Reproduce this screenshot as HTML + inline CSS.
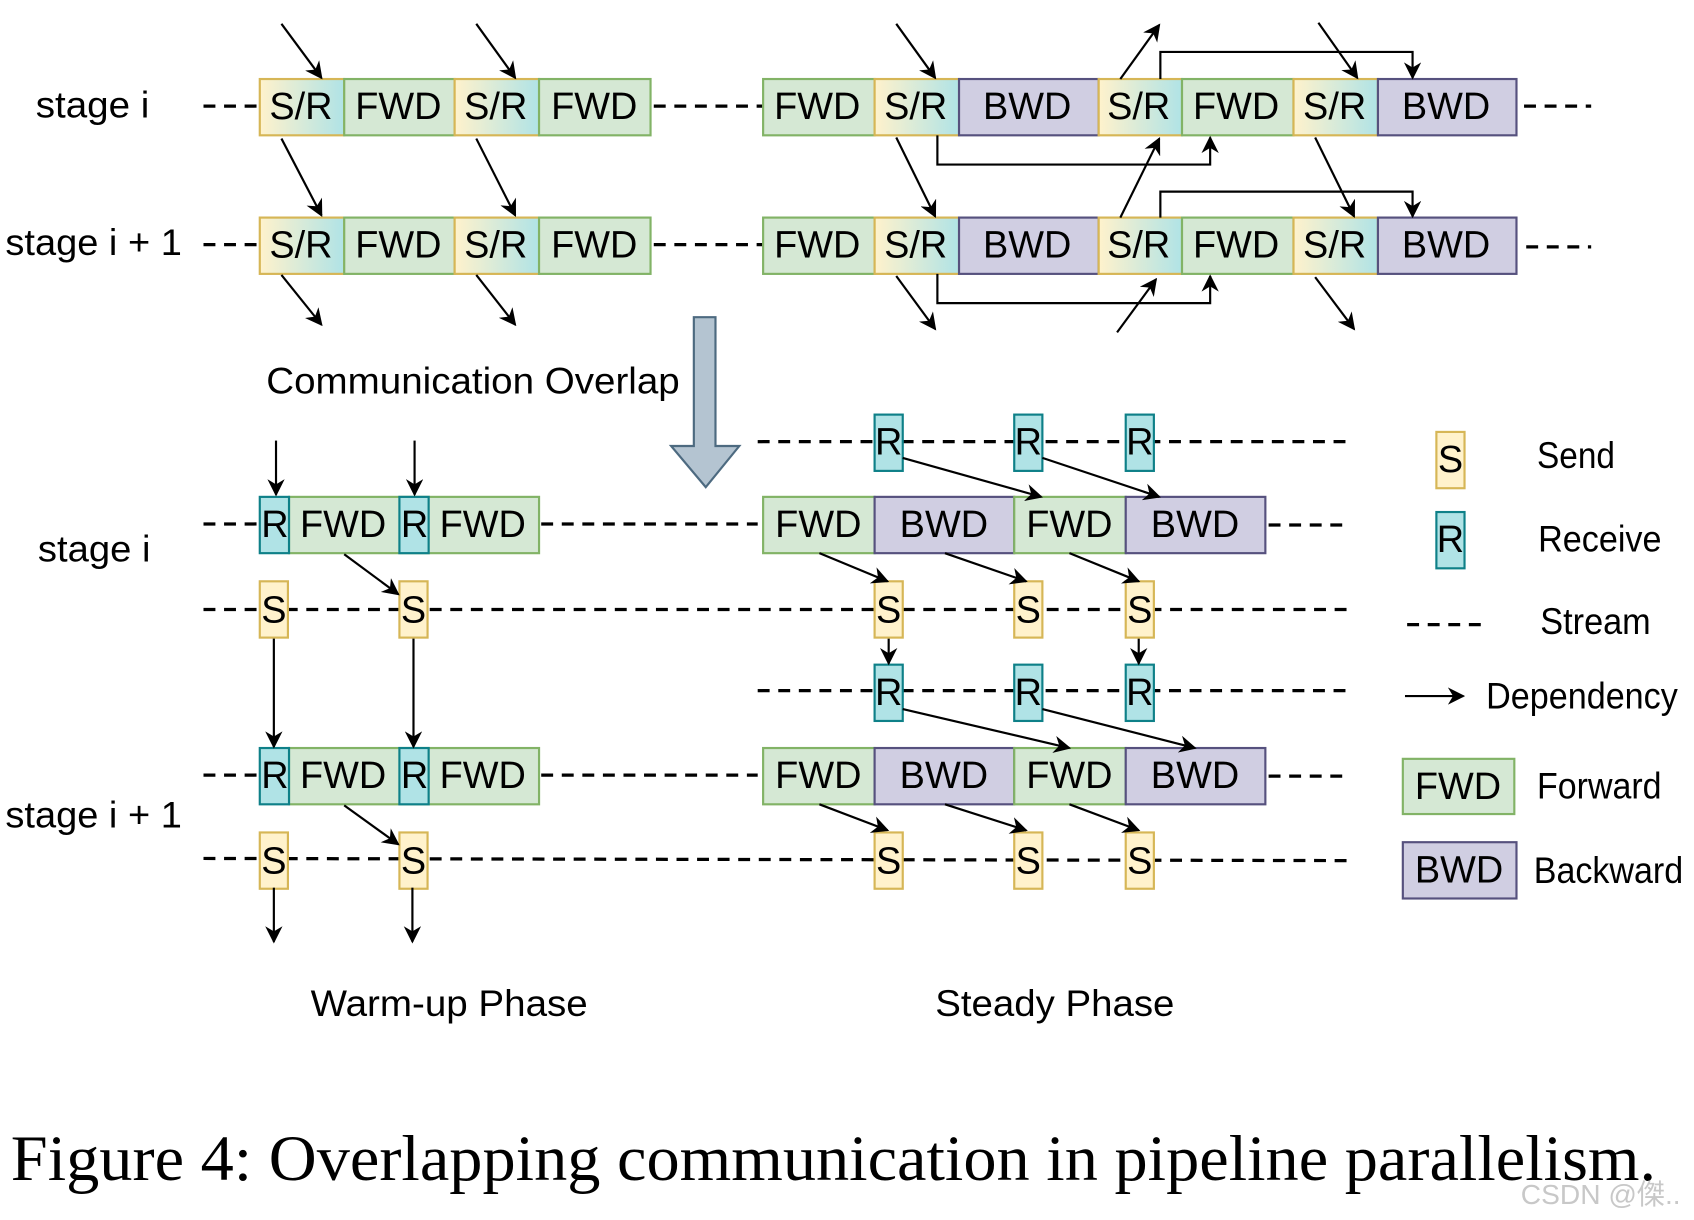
<!DOCTYPE html>
<html><head><meta charset="utf-8"><style>
html,body{margin:0;padding:0;background:#fff;width:1694px;height:1220px;overflow:hidden}
svg{display:block}
text{font-family:"Liberation Sans",sans-serif;fill:#000}
</style></head><body>
<svg width="1694" height="1220" viewBox="0 0 1565 1127" preserveAspectRatio="none" xmlns="http://www.w3.org/2000/svg">
<defs>
<linearGradient id="sr" x1="0" y1="0" x2="1" y2="0"><stop offset="0" stop-color="#fff2cc"/><stop offset="1" stop-color="#b0e3e6"/></linearGradient>
<marker id="b" viewBox="0 0 10 10" refX="9" refY="5" markerWidth="16" markerHeight="16" orient="auto" markerUnits="userSpaceOnUse"><path d="M0,0 L10,5 L0,10 L3,5 z" fill="#000"/></marker>
</defs>
<style>
.d{stroke:#000;stroke-width:3;stroke-dasharray:11 8;fill:none}
.ar{stroke:#000;stroke-width:2;fill:none;marker-end:url(#b)}
.bt{font-size:35px;text-anchor:middle;dominant-baseline:central}
.lb{font-size:34px;dominant-baseline:central}
</style>
<g class="d">
<line x1="188" y1="98" x2="240" y2="98"/><line x1="604" y1="98" x2="705" y2="98"/><line x1="1408" y1="98" x2="1470" y2="98"/>
<line x1="188" y1="226" x2="240" y2="226"/><line x1="604" y1="226" x2="705" y2="226"/><line x1="1410" y1="228" x2="1470" y2="228"/>
<line x1="188" y1="484" x2="240" y2="484"/><line x1="500" y1="484" x2="700" y2="484"/><line x1="1172" y1="485" x2="1245" y2="485"/>
<line x1="188" y1="563" x2="1245" y2="563"/>
<line x1="188" y1="716" x2="240" y2="716"/><line x1="500" y1="716" x2="700" y2="716"/><line x1="1172" y1="717" x2="1245" y2="717"/>
<line x1="188" y1="793" x2="1245" y2="795"/>
<line x1="700" y1="408" x2="1245" y2="408"/>
<line x1="700" y1="638" x2="1245" y2="638"/>
<line x1="1300" y1="577" x2="1375" y2="577"/>
</g>
<g stroke-width="2">
<g id="row1">
<rect x="240" y="73" width="78" height="52" fill="url(#sr)" stroke="#d6b656"/>
<rect x="318" y="73" width="102" height="52" fill="#d5e8d4" stroke="#82b366"/>
<rect x="420" y="73" width="78" height="52" fill="url(#sr)" stroke="#d6b656"/>
<rect x="498" y="73" width="103" height="52" fill="#d5e8d4" stroke="#82b366"/>
<rect x="705" y="73" width="103" height="52" fill="#d5e8d4" stroke="#82b366"/>
<rect x="808" y="73" width="78" height="52" fill="url(#sr)" stroke="#d6b656"/>
<rect x="886" y="73" width="129" height="52" fill="#d0cee2" stroke="#56517e"/>
<rect x="1015" y="73" width="77" height="52" fill="url(#sr)" stroke="#d6b656"/>
<rect x="1092" y="73" width="103" height="52" fill="#d5e8d4" stroke="#82b366"/>
<rect x="1195" y="73" width="78" height="52" fill="url(#sr)" stroke="#d6b656"/>
<rect x="1273" y="73" width="128" height="52" fill="#d0cee2" stroke="#56517e"/>
<g stroke="none">
<text class="bt" x="278" y="99">S/R</text><text class="bt" x="368" y="99">FWD</text>
<text class="bt" x="458" y="99">S/R</text><text class="bt" x="549" y="99">FWD</text>
<text class="bt" x="755" y="99">FWD</text><text class="bt" x="846" y="99">S/R</text>
<text class="bt" x="949" y="99">BWD</text><text class="bt" x="1052" y="99">S/R</text>
<text class="bt" x="1142" y="99">FWD</text><text class="bt" x="1233" y="99">S/R</text>
<text class="bt" x="1336" y="99">BWD</text>
</g>
</g>
<use href="#row1" y="128"/>
</g>
<text class="lb" x="33" y="97" textLength="105" lengthAdjust="spacingAndGlyphs">stage i</text>
<text class="lb" x="5" y="224" textLength="163" lengthAdjust="spacingAndGlyphs">stage i + 1</text>
<g class="ar">
<line x1="260" y1="22" x2="297" y2="72"/><line x1="440" y1="22" x2="476" y2="72"/>
<line x1="260" y1="128" x2="297" y2="199"/><line x1="440" y1="128" x2="476" y2="199"/>
<line x1="260" y1="254" x2="297" y2="300"/><line x1="440" y1="254" x2="476" y2="300"/>
<line x1="828" y1="22" x2="864" y2="72"/><line x1="828" y1="127" x2="864" y2="200"/><line x1="828" y1="255" x2="864" y2="304"/>
<line x1="1035" y1="73" x2="1071" y2="23"/><line x1="1035" y1="201" x2="1071" y2="128"/><line x1="1032" y1="307" x2="1068" y2="258"/>
<line x1="1218" y1="21" x2="1254" y2="72"/><line x1="1215" y1="127" x2="1251" y2="200"/><line x1="1215" y1="256" x2="1251" y2="304"/>
<polyline points="1072,73 1072,48 1305,48 1305,72"/>
<polyline points="1072,201 1072,177 1305,177 1305,200"/>
<polyline points="866,125 866,152 1118,152 1118,127"/>
<polyline points="866,253 866,280 1118,280 1118,255"/>
</g>
<path d="M641,293 L661,293 L661,412 L683,412 L652,450 L620,412 L641,412 Z" fill="#b4c4d1" stroke="#4d6a80" stroke-width="2"/>
<text class="lb" x="246" y="352" textLength="382" lengthAdjust="spacingAndGlyphs">Communication Overlap</text>
<g stroke-width="2">
<g id="wrow">
<rect x="267" y="459" width="231" height="52" fill="#d5e8d4" stroke="#82b366"/>
<rect x="240" y="459" width="27" height="52" fill="#b0e3e6" stroke="#0e8088"/>
<rect x="369" y="459" width="27" height="52" fill="#b0e3e6" stroke="#0e8088"/>
<rect x="240" y="537" width="26" height="52" fill="#fff2cc" stroke="#d6b656"/>
<rect x="369" y="537" width="26" height="52" fill="#fff2cc" stroke="#d6b656"/>
<g stroke="none">
<text class="bt" x="254" y="485">R</text><text class="bt" x="317" y="485">FWD</text>
<text class="bt" x="383" y="485">R</text><text class="bt" x="446" y="485">FWD</text>
<text class="bt" x="253" y="564">S</text><text class="bt" x="382" y="564">S</text>
</g>
</g>
<use href="#wrow" y="232"/>
</g>
<text class="lb" x="35" y="507" textLength="104" lengthAdjust="spacingAndGlyphs">stage i</text>
<text class="lb" x="5" y="753" textLength="163" lengthAdjust="spacingAndGlyphs">stage i + 1</text>
<g class="ar">
<line x1="255" y1="407" x2="255" y2="457"/><line x1="383" y1="407" x2="383" y2="457"/>
<line x1="318" y1="512" x2="368" y2="549"/><line x1="318" y1="744" x2="368" y2="780"/>
<line x1="253" y1="590" x2="253" y2="690"/><line x1="382" y1="590" x2="382" y2="690"/>
<line x1="253" y1="820" x2="253" y2="870"/><line x1="381" y1="820" x2="381" y2="870"/>
</g>
<g stroke-width="2">
<g id="srow">
<rect x="705" y="459" width="103" height="52" fill="#d5e8d4" stroke="#82b366"/>
<rect x="808" y="459" width="129" height="52" fill="#d0cee2" stroke="#56517e"/>
<rect x="937" y="459" width="103" height="52" fill="#d5e8d4" stroke="#82b366"/>
<rect x="1040" y="459" width="129" height="52" fill="#d0cee2" stroke="#56517e"/>
<rect x="808" y="537" width="26" height="52" fill="#fff2cc" stroke="#d6b656"/>
<rect x="937" y="537" width="26" height="52" fill="#fff2cc" stroke="#d6b656"/>
<rect x="1040" y="537" width="26" height="52" fill="#fff2cc" stroke="#d6b656"/>
<g stroke="none">
<text class="bt" x="756" y="485">FWD</text><text class="bt" x="872" y="485">BWD</text>
<text class="bt" x="988" y="485">FWD</text><text class="bt" x="1104" y="485">BWD</text>
<text class="bt" x="821" y="564">S</text><text class="bt" x="950" y="564">S</text><text class="bt" x="1053" y="564">S</text>
</g>
</g>
<use href="#srow" y="232"/>
<g id="rrow">
<rect x="808" y="383" width="26" height="52" fill="#b0e3e6" stroke="#0e8088"/>
<rect x="937" y="383" width="26" height="52" fill="#b0e3e6" stroke="#0e8088"/>
<rect x="1040" y="383" width="26" height="52" fill="#b0e3e6" stroke="#0e8088"/>
<g stroke="none">
<text class="bt" x="821" y="409">R</text><text class="bt" x="950" y="409">R</text><text class="bt" x="1053" y="409">R</text>
</g>
</g>
<use href="#rrow" y="231"/>
</g>
<g class="ar">
<line x1="834" y1="423" x2="962" y2="459"/><line x1="963" y1="423" x2="1071" y2="459"/>
<line x1="757" y1="511" x2="820" y2="537"/><line x1="873" y1="511" x2="948" y2="537"/><line x1="988" y1="511" x2="1052" y2="537"/>
<line x1="821" y1="590" x2="821" y2="613"/><line x1="1052" y1="590" x2="1052" y2="613"/>
<line x1="834" y1="655" x2="988" y2="691"/><line x1="963" y1="655" x2="1104" y2="691"/>
<line x1="757" y1="743" x2="820" y2="767"/><line x1="873" y1="743" x2="948" y2="767"/><line x1="988" y1="743" x2="1052" y2="767"/>
</g>
<g stroke-width="2">
<rect x="1327" y="399" width="26" height="52" fill="#fff2cc" stroke="#d6b656"/>
<rect x="1327" y="473" width="26" height="52" fill="#b0e3e6" stroke="#0e8088"/>
<rect x="1296" y="701" width="103" height="51" fill="#d5e8d4" stroke="#82b366"/>
<rect x="1296" y="778" width="105" height="52" fill="#d0cee2" stroke="#56517e"/>
</g>
<text class="bt" x="1340" y="425">S</text><text class="bt" x="1340" y="499">R</text>
<text class="bt" x="1347" y="727">FWD</text><text class="bt" x="1348" y="804">BWD</text>
<line x1="1298" y1="643" x2="1352" y2="643" class="ar"/>
<text class="lb" x="1420" y="421" textLength="72" lengthAdjust="spacingAndGlyphs">Send</text>
<text class="lb" x="1421" y="498" textLength="114" lengthAdjust="spacingAndGlyphs">Receive</text>
<text class="lb" x="1423" y="574" textLength="102" lengthAdjust="spacingAndGlyphs">Stream</text>
<text class="lb" x="1373" y="643" textLength="177" lengthAdjust="spacingAndGlyphs">Dependency</text>
<text class="lb" x="1420" y="726" textLength="115" lengthAdjust="spacingAndGlyphs">Forward</text>
<text class="lb" x="1417" y="804" textLength="138" lengthAdjust="spacingAndGlyphs">Backward</text>
<text class="lb" x="287" y="927" textLength="256" lengthAdjust="spacingAndGlyphs">Warm-up Phase</text>
<text class="lb" x="864" y="927" textLength="221" lengthAdjust="spacingAndGlyphs">Steady Phase</text>
<text x="10" y="1090" textLength="1520" lengthAdjust="spacingAndGlyphs" style="font-family:'Liberation Serif',serif;font-size:60px">Figure 4: Overlapping communication in pipeline parallelism.</text>
<text x="1405" y="1112" style="font-family:'Liberation Sans','Noto Sans CJK SC',sans-serif;font-size:26px;fill:#c8c8c8">CSDN @傑..</text>
</svg>
</body></html>
